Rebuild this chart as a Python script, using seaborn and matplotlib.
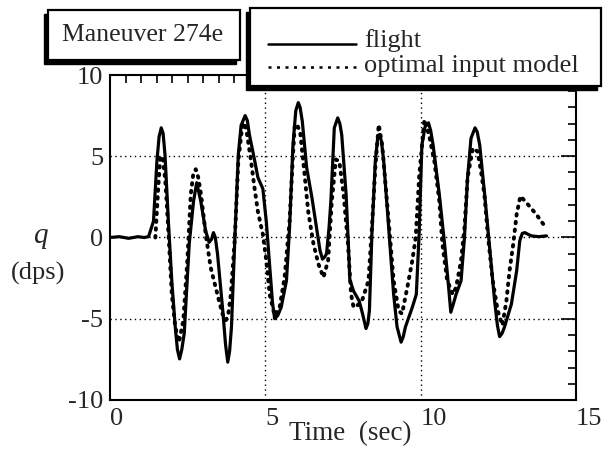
import numpy as np
import pandas as pd
import matplotlib
matplotlib.use("Agg")
import matplotlib.pyplot as plt
from matplotlib.patches import Rectangle
from matplotlib.lines import Line2D
import seaborn as sns

# Pitch rate q (deg/s) versus time (s)
flight_t = [0.0, 0.3, 0.6, 0.9, 1.1, 1.24, 1.40, 1.51, 1.58, 1.65, 1.71, 1.77, 1.89, 1.99,
            2.10, 2.17, 2.24, 2.31, 2.39, 2.55, 2.69, 2.79, 2.92, 3.08, 3.19, 3.27, 3.33,
            3.39, 3.46, 3.63, 3.72, 3.79, 3.85, 3.91, 4.02, 4.13, 4.22, 4.35, 4.42, 4.49,
            4.66, 4.76, 4.85, 4.92, 5.03, 5.14, 5.23, 5.30, 5.40, 5.51, 5.68, 5.78, 5.89,
            5.98, 6.06, 6.12, 6.19, 6.33, 6.50, 6.65, 6.76, 6.84, 6.91, 6.97, 7.05, 7.11,
            7.22, 7.33, 7.40, 7.46, 7.60, 7.67, 7.72, 7.84, 8.02, 8.13, 8.24, 8.30, 8.35,
            8.43, 8.54, 8.62, 8.68, 8.74, 8.81, 8.97, 9.13, 9.24, 9.37, 9.44, 9.51, 9.62,
            9.73, 9.86, 9.95, 10.04, 10.14, 10.25, 10.32, 10.40, 10.60, 10.77, 10.90,
            10.97, 11.05, 11.14, 11.30, 11.41, 11.51, 11.62, 11.75, 11.82, 11.90, 12.06,
            12.22, 12.38, 12.47, 12.54, 12.62, 12.70, 12.92, 13.09, 13.19, 13.27, 13.35,
            13.56, 13.80, 14.05]
flight_q = [0.0, 0.05, -0.05, 0.05, 0.0, 0.05, 1.0, 4.7, 6.2, 6.75, 6.4, 5.1, 0.6, -2.7,
            -5.5, -6.9, -7.47, -6.9, -5.9, -0.4, 2.25, 3.37, 2.25, 0.4, -0.3, -0.1, 0.3,
            0.0, -1.0, -4.5, -6.6, -7.67, -7.0, -5.5, 0.0, 5.1, 6.9, 7.5, 7.2, 6.3,
            4.7, 3.7, 3.3, 3.0, 1.0, -1.8, -4.0, -5.0, -4.8, -4.3, -2.66, 0.6, 5.7,
            7.8, 8.3, 8.0, 7.15, 4.3, 2.45, 0.6, -0.8, -1.33, -1.2, -1.0, 0.6, 2.25,
            6.75, 7.36, 7.0, 6.3, 2.65, -0.3, -2.6, -3.3, -3.9, -4.7, -5.6, -5.3, -4.5,
            0.2, 4.7, 6.2, 6.34, 5.9, 4.7, 0.6, -3.5, -5.5, -6.44, -6.1, -5.5, -4.9,
            -4.3, -3.5, 0.2, 5.7, 6.8, 7.06, 6.6, 5.7, 2.65, -0.4, -3.07,
            -4.6, -4.1, -3.5, -2.66, 0.0, 3.7, 6.1, 6.75, 6.5, 5.7, 2.65,
            -0.6, -3.9, -5.4, -6.1, -5.9, -5.5, -4.1, -2.05, -0.2, 0.25, 0.3,
            0.1, 0.05, 0.1]

model_t = [1.46, 1.55, 1.62, 1.70, 1.78, 1.83, 1.89, 1.99, 2.10, 2.22, 2.36, 2.49, 2.60,
           2.68, 2.76, 2.84, 2.93, 3.08, 3.24, 3.51, 3.62, 3.73, 3.81, 3.89, 4.02, 4.13,
           4.24, 4.33, 4.40, 4.54, 4.65, 4.76, 4.92, 5.03, 5.14, 5.30, 5.46, 5.62, 5.78,
           5.89, 5.95, 6.03, 6.12, 6.22, 6.38, 6.55, 6.71, 6.87, 7.02, 7.14, 7.27, 7.38,
           7.52, 7.66, 7.76, 7.84, 7.95, 8.11, 8.32, 8.43, 8.54, 8.65, 8.76, 8.97, 9.13,
           9.29, 9.40, 9.57, 9.73, 9.84, 9.95, 10.12, 10.27, 10.44, 10.60, 10.70, 10.85,
           11.03, 11.14, 11.30, 11.41, 11.51, 11.68, 11.83, 11.94, 12.05, 12.16, 12.32,
           12.48, 12.63, 12.76, 12.86, 12.98, 13.09, 13.21, 13.45, 13.72, 13.99]
model_q = [0.0, 3.0, 5.0, 4.9, 3.5, 2.0, 0.0, -3.5, -5.5, -6.44, -5.1, -1.4, 2.65,
           3.9, 4.2, 3.7, 2.65, 0.2, -1.84, -3.9, -4.7, -5.1, -4.7, -3.5, 0.0, 4.7,
           6.6, 7.06, 6.5, 4.7, 3.07, 1.6, 0.2, -1.4, -3.5, -4.8, -4.3, -2.45, 1.0,
           5.1, 6.95, 6.9, 6.5, 4.7, 1.6, -0.4, -1.64, -2.45, -1.43, 2.25, 4.8, 4.7,
           2.65, -0.4, -3.5, -4.3, -4.2, -3.9, -2.66, 0.6, 4.3, 6.95, 5.7, 1.0, -2.66,
           -4.5, -4.7, -3.07, -1.43, 0.0, 3.7, 7.26, 6.3, 4.7, 2.25, -0.4, -2.6,
           -3.5, -3.07, -1.43, 0.6, 3.7, 5.5, 5.3, 4.1, 2.65, 0.2, -2.66,
           -4.5, -5.4, -3.9, -2.05, -0.4, 1.43, 2.55, 2.04, 1.43, 0.71]

x_ticks = [0, 5, 10, 15]
y_ticks = [-10, -5, 0, 5, 10]
title_text = "Maneuver 274e"
series_names = ["flight", "optimal input model"]

sns.set_style("white")
plt.rcParams["font.family"] = ["Liberation Serif", "DejaVu Serif"]

W, H = 610, 450
fig = plt.figure(figsize=(W / 100, H / 100), dpi=100)


def fx(px):
    return px / W


def fy(py):
    return 1 - py / H


ax = fig.add_axes([fx(110), fy(400), fx(576) - fx(110), fy(75) - fy(400)])

flight = pd.DataFrame({"t": flight_t, "q": flight_q})
model = pd.DataFrame({"t": model_t, "q": model_q})

sns.lineplot(data=flight, x="t", y="q", ax=ax, color="black", lw=2.3,
             sort=False, estimator=None, zorder=3)
sns.lineplot(data=model, x="t", y="q", ax=ax, color="black", lw=2.8,
             linestyle=(0, (0.4, 1.6)), dash_capstyle="round",
             sort=False, estimator=None, zorder=4)

ax.set_xlim(0, 15)
ax.set_ylim(-10, 10)
ax.set_xticks(x_ticks)
ax.set_xticks(np.arange(0, 15.01, 0.5), minor=True)
ax.set_yticks(y_ticks)
ax.set_yticks(np.arange(-10, 10.01, 1), minor=True)
ax.set_xticklabels([str(v) for v in x_ticks], fontsize=19)
ax.set_yticklabels([str(v) for v in y_ticks], fontsize=19)
for lbl in ax.get_xticklabels():
    lbl.set_ha("left")
for lbl in ax.get_yticklabels():
    lbl.set_va("center_baseline")
ax.tick_params(which="both", direction="in", top=True, right=True,
               width=1.2, color="black")
ax.tick_params(which="major", length=11)
ax.tick_params(which="minor", length=6)
ax.tick_params(axis="x", which="major", pad=6)
ax.tick_params(axis="y", which="major", pad=5)
ax.set_xlabel("")
ax.set_ylabel("")
for s in ax.spines.values():
    s.set_linewidth(1.5)
    s.set_color("black")

for v in [5, 10]:
    ax.axvline(v, color="black", lw=1.0, linestyle=(0, (1, 2.5)), zorder=1)
for v in [-5, 0, 5]:
    ax.axhline(v, color="black", lw=1.0, linestyle=(0, (1, 2.5)), zorder=1)

fig.text(fx(40), fy(236), "q", fontsize=21, style="italic", ha="center", va="center")
fig.text(fx(38), fy(273), "(dps)", fontsize=19, ha="center", va="center")
fig.text(fx(350), fy(434), "Time  (sec)", fontsize=19.5, ha="center", va="center")


def shadow_box(x0, y0, x1, y1, off=4):
    fig.add_artist(Rectangle((fx(x0 - off), fy(y1 + off)), fx(x1) - fx(x0),
                             fy(y0) - fy(y1), transform=fig.transFigure,
                             facecolor="black", edgecolor="black", zorder=5))
    fig.add_artist(Rectangle((fx(x0), fy(y1)), fx(x1) - fx(x0), fy(y0) - fy(y1),
                             transform=fig.transFigure, facecolor="white",
                             edgecolor="black", lw=1.6, zorder=6))


shadow_box(48, 10, 240, 60)
fig.text(fx(143), fy(35), title_text, fontsize=18.5, ha="center", va="center", zorder=7)

shadow_box(250, 8, 601, 86)
fig.add_artist(Line2D([fx(268), fx(356)], [fy(44), fy(44)], transform=fig.transFigure,
                      color="black", lw=1.8, zorder=7))
fig.add_artist(Line2D([fx(268), fx(356)], [fy(67), fy(67)], transform=fig.transFigure,
                      color="black", lw=1.8, linestyle=(0, (1.2, 2.2)), zorder=7))
fig.text(fx(364), fy(41), series_names[0], fontsize=19, ha="left", va="center", zorder=7)
fig.text(fx(364), fy(66), series_names[1], fontsize=19, ha="left", va="center", zorder=7)

fig.savefig("out.png", dpi=100)
